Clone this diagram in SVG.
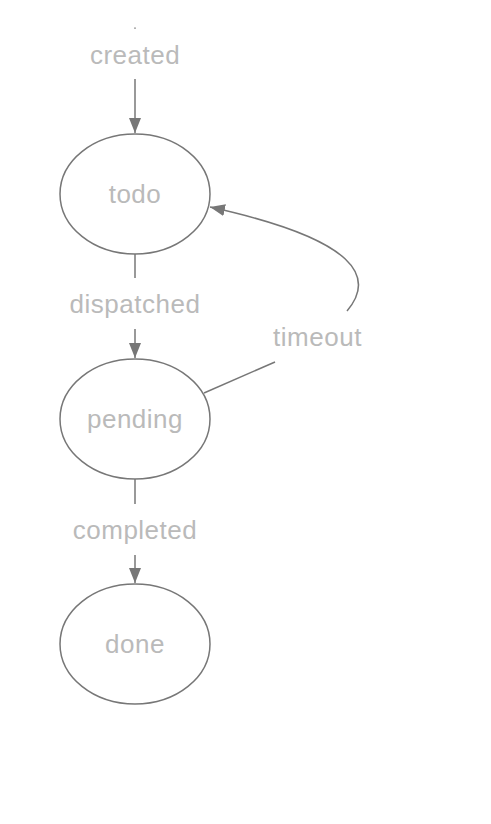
<svg xmlns="http://www.w3.org/2000/svg" width="491" height="824" viewBox="0 0 491 824">
<style>
.node ellipse{fill:none;stroke:#777;stroke-width:1.5}
.lbl{font-family:"Liberation Sans",Arial,Helvetica,sans-serif;font-size:26px;fill:#bababa;text-anchor:middle;letter-spacing:0.5px}
.edge{fill:none;stroke:#777;stroke-width:1.5}
</style>
<defs>
<marker id="ah" markerUnits="userSpaceOnUse" markerWidth="16" markerHeight="13" refX="15" refY="6.5" orient="auto" viewBox="0 0 16 13">
<path d="M0 0.5 L15 6.5 L0 12.5 Z" fill="#777"/>
</marker>
</defs>
<rect width="491" height="824" fill="#fff"/>
<g id="connectors">
<path class="edge" d="M135 27.5 L135 28.8"/>
<path class="edge" d="M135 79 L135 133" marker-end="url(#ah)"/>
<path class="edge" d="M135 254 L135 278"/>
<path class="edge" d="M135 329 L135 358" marker-end="url(#ah)"/>
<path class="edge" d="M135 479 L135 504"/>
<path class="edge" d="M135 555 L135 583" marker-end="url(#ah)"/>
<path class="edge" d="M204 393 L275 362"/>
<path class="edge" d="M347 311 C375 278 360 240 210 207" marker-end="url(#ah)"/>
<text class="lbl" x="135" y="64">created</text>
<text class="lbl" x="135" y="313">dispatched</text>
<text class="lbl" x="135" y="539">completed</text>
<text class="lbl" x="317.5" y="346">timeout</text>
</g>
<g id="todo" class="node">
<ellipse cx="135" cy="194" rx="75" ry="60"/>
<text class="lbl" x="135" y="203">todo</text>
</g>
<g id="pending" class="node">
<ellipse cx="135" cy="419" rx="75" ry="60"/>
<text class="lbl" x="135" y="428">pending</text>
</g>
<g id="done" class="node">
<ellipse cx="135" cy="644" rx="75" ry="60"/>
<text class="lbl" x="135" y="653">done</text>
</g>
</svg>
